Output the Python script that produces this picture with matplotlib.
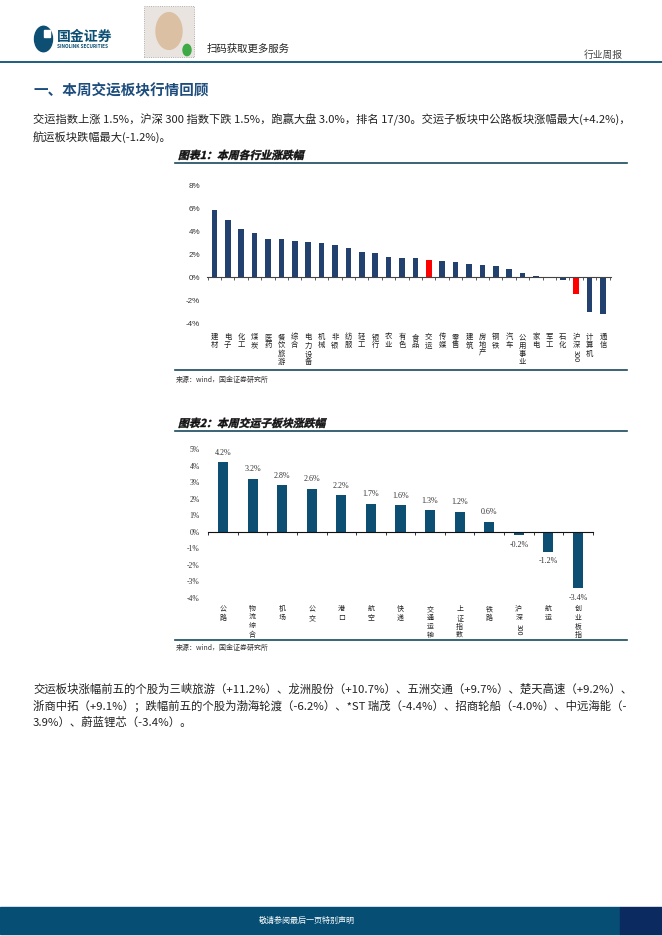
import matplotlib
matplotlib.use("Agg")
import matplotlib.pyplot as plt
from matplotlib.patches import Rectangle, Circle, PathPatch
from matplotlib.textpath import TextPath
from matplotlib.font_manager import FontProperties
from matplotlib.transforms import offset_copy, Affine2D, IdentityTransform

plt.rcParams["font.family"] = ["Noto Sans CJK SC", "DejaVu Sans"]

W, H = 662, 936

# chart 1: weekly change by industry (%)
industries = ["建材", "电子", "化工", "煤炭", "医药", "餐饮旅游", "综合", "电力设备",
              "机械", "非银", "纺服", "轻工", "银行", "农业", "有色", "食品", "交运",
              "传媒", "零售", "建筑", "房地产", "钢铁", "汽车", "公用事业", "家电",
              "军工", "石化", "沪深300", "计算机", "通信"]
industry_chg = [5.9, 5.0, 4.2, 3.9, 3.4, 3.4, 3.2, 3.1, 3.0, 2.8, 2.6, 2.2, 2.1,
                1.8, 1.7, 1.7, 1.5, 1.4, 1.3, 1.2, 1.1, 1.0, 0.7, 0.4, 0.1, 0.03,
                -0.2, -1.5, -3.0, -3.2]
highlight = ["交运", "沪深300"]

# chart 2: transport sub-sectors (%)
sectors = ["公路", "物流综合", "机场", "公交", "港口", "航空", "快递", "交通运输",
           "上证指数", "铁路", "沪深300", "航运", "创业板指"]
sector_chg = [4.2, 3.2, 2.8, 2.6, 2.2, 1.7, 1.6, 1.3, 1.2, 0.6, -0.2, -1.2, -3.4]

NAVY = "#22416e"
TEAL = "#0d4f73"
LINE = "#184a5c"


def fy(y):
    return 1 - y / H


def add_ax(left, right, top, bottom):
    return fig.add_axes([left / W, fy(bottom), (right - left) / W, (bottom - top) / H])


def italic_title(x, y, text, size_pt):
    # fake bold italic by skewing the glyph outlines
    prop = FontProperties(family="Noto Sans CJK SC", weight="bold")
    path = TextPath((0, 0), text, size=size_pt * 100 / 72, prop=prop)
    tr = Affine2D().skew_deg(14, 0).translate(x, H - y) + IdentityTransform()
    fig.add_artist(PathPatch(path, transform=tr, facecolor="#111111",
                             edgecolor="#111111", lw=0.3))


def vlabel(ax, x, y_ax, text, size, step):
    # stack CJK characters vertically, ascii runs rotated
    tokens, buf = [], ""
    for ch in text:
        if ch.isascii():
            buf += ch
        else:
            if buf:
                tokens.append(buf)
                buf = ""
            tokens.append(ch)
    if buf:
        tokens.append(buf)
    off = 0.0
    base = ax.get_xaxis_transform()
    for tok in tokens:
        if tok.isascii():
            h = len(tok) * step * 0.55
            tr = offset_copy(base, fig=fig, x=0, y=-(off + h / 2), units="dots")
            ax.text(x, y_ax, tok, transform=tr, rotation=270, ha="center",
                    va="center", fontsize=size, color="#222222")
            off += h + 1
        else:
            tr = offset_copy(base, fig=fig, x=0, y=-(off + step / 2), units="dots")
            ax.text(x, y_ax, tok, transform=tr, ha="center", va="center",
                    fontsize=size, color="#222222")
            off += step


fig = plt.figure(figsize=(W / 100, H / 100), dpi=100)

# ---- header ----
fig.add_artist(Circle((43.5 / W, fy(39)), 9 / W, transform=fig.transFigure,
                      color=TEAL))
fig.add_artist(Rectangle((44 / W, fy(37)), 6 / W, 7 / H, transform=fig.transFigure,
                         color="white"))
fig.text(57 / W, fy(37), "国金证券", fontsize=10, fontweight="bold", color=TEAL,
         va="center")
fig.text(57 / W, fy(46.5), "SINOLINK SECURITIES", fontsize=3.4, fontweight="bold",
         color=TEAL, va="center")
fig.add_artist(Rectangle((144 / W, fy(57)), 50 / W, 51 / H, transform=fig.transFigure,
                         facecolor="#e9e4e0", edgecolor="#9a9a9a", lw=0.6, ls=":"))
fig.add_artist(Circle((169 / W, fy(31)), 13 / W, transform=fig.transFigure,
                      color="#dcc0a4"))
fig.add_artist(Circle((187 / W, fy(50)), 4 / W, transform=fig.transFigure,
                      color="#3daa46"))
fig.text(207 / W, fy(49), "扫码获取更多服务", fontsize=7.5, va="center", color="#222222")
fig.text(623 / W, fy(55), "行业周报", fontsize=7, va="center", ha="right",
         color="#444444")
fig.add_artist(plt.Line2D([0, 1], [fy(62), fy(62)], color=TEAL, lw=1.3))

# ---- section title and body ----
fig.text(33 / W, fy(90), "一、本周交运板块行情回顾", fontsize=10.5, fontweight="bold",
         color="#1d4d7c", va="center")
fig.text(33 / W, fy(120),
         "交运指数上涨 1.5%，沪深 300 指数下跌 1.5%，跑赢大盘 3.0%，排名 17/30。"
         "交运子板块中公路板块涨幅最大(+4.2%)，",
         fontsize=8.1, va="center", color="#222222")
fig.text(33 / W, fy(137), "航运板块跌幅最大(-1.2%)。", fontsize=8.1, va="center",
         color="#222222")

# ---- chart 1 ----
italic_title(178, 159, "图表1：本周各行业涨跌幅", 7.8)
fig.add_artist(plt.Line2D([175 / W, 627 / W], [fy(163), fy(163)], color=LINE, lw=1.2))
fig.add_artist(plt.Line2D([175 / W, 627 / W], [fy(370), fy(370)], color=LINE, lw=1.2))
fig.text(176 / W, fy(380), "来源：wind，国金证券研究所", fontsize=5, va="center",
         color="#333333")

ax1 = add_ax(207, 611, 186, 323)
x1 = list(range(len(industries)))
colors1 = ["#ff0000" if n in highlight else NAVY for n in industries]
ax1.bar(x1, industry_chg, width=0.42, color=colors1)
ax1.set_xlim(-0.55, len(industries) - 0.4)
ax1.set_ylim(-4, 8)
ax1.set_yticks(range(-4, 9, 2))
ax1.set_yticklabels([f"{v}%" for v in range(-4, 9, 2)], fontfamily="Liberation Sans",
                    fontsize=5.8, color="#333333")
ax1.tick_params(axis="y", length=0, pad=5)
for s in ["top", "right", "left"]:
    ax1.spines[s].set_visible(False)
ax1.spines["bottom"].set_position(("data", 0))
ax1.spines["bottom"].set_color("#444444")
ax1.spines["bottom"].set_linewidth(0.8)
ax1.set_xticks([i - 0.5 for i in x1] + [len(x1) - 0.5])
ax1.set_xticklabels([])
ax1.tick_params(axis="x", length=2, width=0.6, color="#444444")
ax1.patch.set_alpha(0)
for i, name in enumerate(industries):
    vlabel(ax1, i, -(333 - 323) / 137, name, 5.3, 8.3)

# ---- chart 2 ----
italic_title(178, 427, "图表2：本周交运子板块涨跌幅", 7.8)
fig.add_artist(plt.Line2D([175 / W, 627 / W], [fy(431), fy(431)], color=LINE, lw=1.2))
fig.add_artist(plt.Line2D([175 / W, 627 / W], [fy(640), fy(640)], color=LINE, lw=1.2))
fig.text(176 / W, fy(648), "来源：wind，国金证券研究所", fontsize=5, va="center",
         color="#333333")

ax2 = add_ax(208, 593, 449, 598)
x2 = list(range(len(sectors)))
ax2.bar(x2, sector_chg, width=0.34, color=TEAL)
ax2.set_xlim(-0.51, len(sectors) - 0.49)
ax2.set_ylim(-4, 5)
ax2.set_yticks(range(-4, 6))
ax2.set_yticklabels([f"{v}%" for v in range(-4, 6)], fontfamily="Liberation Serif",
                    fontsize=5.5, color="#333333")
ax2.tick_params(axis="y", length=0, pad=6)
for s in ["top", "right", "left"]:
    ax2.spines[s].set_visible(False)
ax2.spines["bottom"].set_position(("data", 0))
ax2.spines["bottom"].set_color("#111111")
ax2.spines["bottom"].set_linewidth(0.8)
ax2.set_xticks([i - 0.5 for i in x2] + [len(x2) - 0.5])
ax2.set_xticklabels([])
ax2.tick_params(axis="x", length=2.5, width=0.6, color="#111111")
ax2.patch.set_alpha(0)
for i, v in enumerate(sector_chg):
    ax2.annotate(f"{v:.1f}%", (i, v), xytext=(0, 7 if v >= 0 else -7),
                 textcoords="offset points", ha="center",
                 va="center", fontfamily="Liberation Serif", fontsize=5.8,
                 color="#333333")
for i, name in enumerate(sectors):
    vlabel(ax2, i, -(605 - 598) / 149, name, 5.0, 8.6)

# ---- bottom text ----
body2 = ["交运板块涨幅前五的个股为三峡旅游（+11.2%）、龙洲股份（+10.7%）、五洲交通（+9.7%）、楚天高速（+9.2%）、",
         "浙商中拓（+9.1%）；跌幅前五的个股为渤海轮渡（-6.2%）、*ST 瑞茂（-4.4%）、招商轮船（-4.0%）、中远海能（-",
         "3.9%）、蔚蓝锂芯（-3.4%）。"]
for k, line in enumerate(body2):
    fig.text(33 / W, fy(689 + 16.5 * k), line, fontsize=8.2, va="center",
             color="#222222")

# ---- footer ----
fig.add_artist(Rectangle((0, fy(934)), 620 / W, 27 / H, transform=fig.transFigure,
                         color="#064e74"))
fig.add_artist(Rectangle((620 / W, fy(934)), 42 / W, 27 / H, transform=fig.transFigure,
                         color="#0b2a60"))
fig.text(307 / W, fy(920), "敬请参阅最后一页特别声明", fontsize=5.8, ha="center",
         va="center", color="white")

fig.savefig("out.png", dpi=100)
